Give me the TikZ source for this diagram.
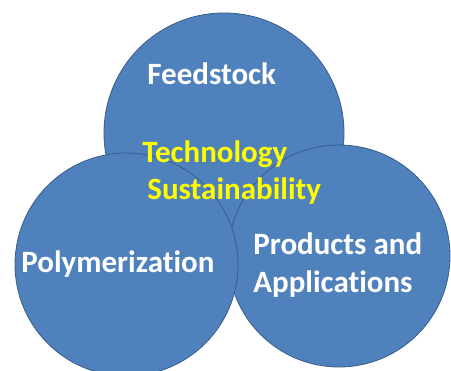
\documentclass[tikz,border=0pt]{standalone}
\usepackage{fontspec}
\setmainfont{Carlito}[Ligatures=NoCommon]
\usepackage{tikz}
\definecolor{vennblue}{HTML}{4F81BD}
\definecolor{vennedge}{HTML}{385D8A}
\definecolor{vennyellow}{HTML}{FFFF00}

\begin{document}
\begin{tikzpicture}[x=1pt,y=-1pt,thick,main circle/.style={circle,draw=vennedge,fill=vennblue,inner sep=0pt},main label/.style={font=\fontsize{31}{38}\selectfont\bfseries,text=white,anchor=base west,inner sep=0pt,align=left},core label/.style={main label,text=vennyellow}]

        \useasboundingbox[fill=white] (0,0) rectangle (451,371);

        \node[main circle,minimum size=240pt] (F) at (224,133) {};
        \node[main circle,minimum size=222pt] (P) at (339,256) {};
        \node[main circle,minimum size=223pt] (M) at (126.5,264.5) {};

        \node[main label] (feed) at (147,85) {Feedstock};
        \node[main label] (poly) at (21,273) {Polymerization};
        \node[main label] (prod) at (253,293) {Products and\\Applications};
        \node[core label] (tech) at (142,163) {Technology};
        \node[core label] (sust) at (147,200) {Sustainability};
    \end{tikzpicture}
\end{document}
